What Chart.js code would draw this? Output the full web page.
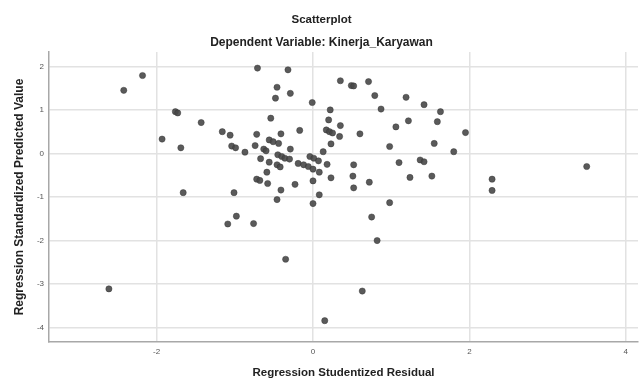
<!DOCTYPE html>
<html>
<head>
<meta charset="utf-8">
<script src="https://cdn.jsdelivr.net/npm/chart.js@4/dist/chart.umd.min.js"></script>
<style>
  body { margin: 0; background: #fff; }
  #wrap { width: 643px; height: 381px; }
</style>
</head>
<body>
<div id="wrap"><canvas id="scatter" width="643" height="381"></canvas></div>
<script>
const chartTitle = "Scatterplot";
const chartSubtitle = "Dependent Variable: Kinerja_Karyawan";
const xLabel = "Regression Studentized Residual";
const yLabel = "Regression Standardized Predicted Value";

// studentized residual (x) and standardized predicted value (y)
const residual = [
  -2.61, -2.42, -2.18, -1.93, -1.76, -1.73, -1.69, -1.66, -1.43, -1.16,
  -1.06, -1.04, -0.99, -1.01, -0.98, -1.09, -0.87, -0.76, -0.72, -0.74,
  -0.71, -0.72, -0.68, -0.67, -0.63, -0.60, -0.59, -0.58, -0.56, -0.56,
  -0.54, -0.51, -0.48, -0.46, -0.46, -0.46, -0.45, -0.44, -0.42, -0.41,
  -0.41, -0.40, -0.36, -0.35, -0.32, -0.30, -0.29, -0.29, -0.23, -0.19,
  -0.17, -0.12, -0.06, -0.04, -0.01, 0.00, 0.00, 0.00, 0.01, 0.07,
  0.08, 0.08, 0.13, 0.15, 0.17, 0.18, 0.20, 0.21, 0.22, 0.23,
  0.23, 0.25, 0.34, 0.35, 0.35, 0.49, 0.52, 0.52, 0.51, 0.52,
  0.60, 0.63, 0.71, 0.72, 0.75, 0.79, 0.82, 0.87, 0.98, 0.98,
  1.06, 1.10, 1.19, 1.22, 1.24, 1.37, 1.42, 1.42, 1.52, 1.55,
  1.59, 1.63, 1.80, 1.95, 2.29, 2.29, 3.50
];
const predicted = [
  -3.11, 1.45, 1.79, 0.33, 0.96, 0.93, 0.13, -0.90, 0.71, 0.50,
  0.42, 0.17, 0.13, -0.90, -1.44, -1.62, 0.03, -1.61, 0.44, 0.18,
  1.96, -0.59, -0.62, -0.12, 0.10, 0.06, -0.43, -0.69, 0.31, -0.20,
  0.81, 0.27, 1.27, 1.52, -0.26, -1.06, -0.03, 0.23, -0.31, 0.45,
  -0.84, -0.07, -0.11, -2.43, 1.92, -0.13, 1.38, 0.10, -0.71, -0.23,
  0.53, -0.26, -0.30, -0.07, 1.17, -0.36, -0.63, -1.15, -0.11, -0.17,
  -0.43, -0.95, 0.04, -3.84, 0.54, -0.25, 0.77, 0.50, 1.00, 0.22,
  -0.56, 0.47, 0.39, 0.64, 1.67, 1.56, 1.55, -0.26, -0.52, -0.79,
  0.45, -3.16, 1.65, -0.66, -1.46, 1.33, -2.00, 1.02, 0.16, -1.13,
  0.61, -0.21, 1.29, 0.75, -0.55, -0.15, -0.19, 1.12, -0.52, 0.23,
  0.73, 0.96, 0.04, 0.48, -0.59, -0.85, -0.30
];

const xTicks = [-2, 0, 2, 4];
const yTicks = [-4, -3, -2, -1, 0, 1, 2];

const points = residual.map((x, i) => ({ x: x, y: predicted[i] }));

Chart.defaults.font.family = "'Liberation Sans', Arial, sans-serif";
Chart.defaults.color = "#333";

const gridColor = "#e2e2e2";
const axisColor = "#a8a8a8";

new Chart(document.getElementById('scatter'), {
  type: 'scatter',
  data: {
    datasets: [{
      data: points,
      pointRadius: 3.1,
      pointBackgroundColor: 'rgba(72,72,72,0.9)',
      pointBorderColor: 'rgba(50,50,50,0.45)',
      pointBorderWidth: 1
    }]
  },
  options: {
    responsive: false,
    animation: false,
    layout: { padding: 0 },
    plugins: {
      legend: { display: false },
      tooltip: { enabled: false },
      title: {
        display: true,
        text: chartTitle,
        color: '#222',
        font: { size: 11.5, weight: 'bold' },
        padding: { top: 12.6, bottom: 0 }
      },
      subtitle: {
        display: true,
        text: chartSubtitle,
        color: '#222',
        font: { size: 12, weight: 'bold' },
        padding: { top: 8.9, bottom: 2.3 }
      }
    },
    scales: {
      x: {
        type: 'linear',
        min: -3.376,
        max: 4.156,
        afterFit: (s) => { s.height = 39; },
        afterBuildTicks: (s) => { s.ticks = xTicks.map(v => ({ value: v })); },
        ticks: { font: { size: 8 }, color: '#555', padding: 5 },
        grid: { color: gridColor, lineWidth: 1.5, drawTicks: false },
        border: { display: true, color: axisColor, width: 1.5 },
        title: {
          display: true,
          text: xLabel,
          color: '#222',
          font: { size: 11.5, weight: 'bold' },
          padding: { top: 0, bottom: 1.1 }
        }
      },
      y: {
        type: 'linear',
        min: -4.33,
        max: 2.33,
        afterFit: (s) => { s.width = 49; },
        afterBuildTicks: (s) => { s.ticks = yTicks.map(v => ({ value: v })); },
        ticks: { font: { size: 8 }, color: '#555', padding: 5 },
        grid: { color: gridColor, lineWidth: 1.5, drawTicks: false },
        border: { display: true, color: axisColor, width: 1.5 },
        title: {
          display: true,
          text: yLabel,
          color: '#222',
          font: { size: 12, weight: 'bold' },
          padding: { top: 12.8, bottom: 0 }
        }
      }
    }
  }
});
</script>
</body>
</html>
